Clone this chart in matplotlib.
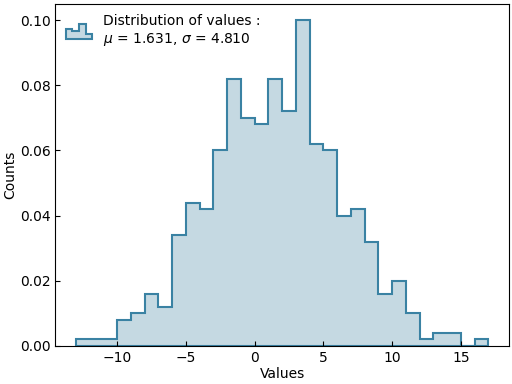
import numpy as np
import matplotlib
matplotlib.use("Agg")
import matplotlib.pyplot as plt
from matplotlib.patches import Polygon
from matplotlib.legend_handler import HandlerPatch

# bin edges and density values
edges = np.arange(-13, 18, 1)
density = [0.002, 0.002, 0.002, 0.008, 0.010, 0.016, 0.012, 0.034, 0.044, 0.042,
           0.060, 0.082, 0.070, 0.068, 0.082, 0.072, 0.100, 0.062, 0.060, 0.040,
           0.042, 0.032, 0.016, 0.020, 0.010, 0.002, 0.004, 0.004, 0.000, 0.002]
mu = 1.631
sigma = 4.810

edge_col = "#3a82a3"
fill_col = "#c5d9e2"


# legend icon shaped like a small histogram
class StepHandler(HandlerPatch):
    def create_artists(self, legend, orig_handle, xdescent, ydescent,
                       width, height, fontsize, trans):
        x0, y0 = -xdescent, -ydescent
        hs = [0.7, 0.52, 1.0, 0.375]
        pts = [(x0, y0)]
        for i, h in enumerate(hs):
            pts.append((x0 + width * i / len(hs), y0 + h * height))
            pts.append((x0 + width * (i + 1) / len(hs), y0 + h * height))
        pts.append((x0 + width, y0))
        p = Polygon(pts, closed=True, facecolor=fill_col, edgecolor=edge_col,
                    linewidth=1.5, transform=trans)
        return [p]


fig, ax = plt.subplots(figsize=(5.12, 3.84), dpi=100)
n, b, patches = ax.hist(edges[:-1], bins=edges, weights=density, histtype="stepfilled",
                        facecolor=fill_col, edgecolor=edge_col, linewidth=1.5,
                        label="Distribution of values :\n$\\mu$ = %.3f, $\\sigma$ = %.3f" % (mu, sigma))

ax.tick_params(direction="in", top=False, right=False)
ax.set_xlabel("Values", labelpad=1.5)
ax.set_ylabel("Counts", labelpad=2.0)
ax.legend(handler_map={Polygon: StepHandler()}, loc="upper left", frameon=False,
          handlelength=1.9, handleheight=1.25, handletextpad=0.75, borderaxespad=0.35)
fig.subplots_adjust(left=0.108, right=0.994, top=0.99, bottom=0.099)
fig.savefig("out.png", dpi=100)
